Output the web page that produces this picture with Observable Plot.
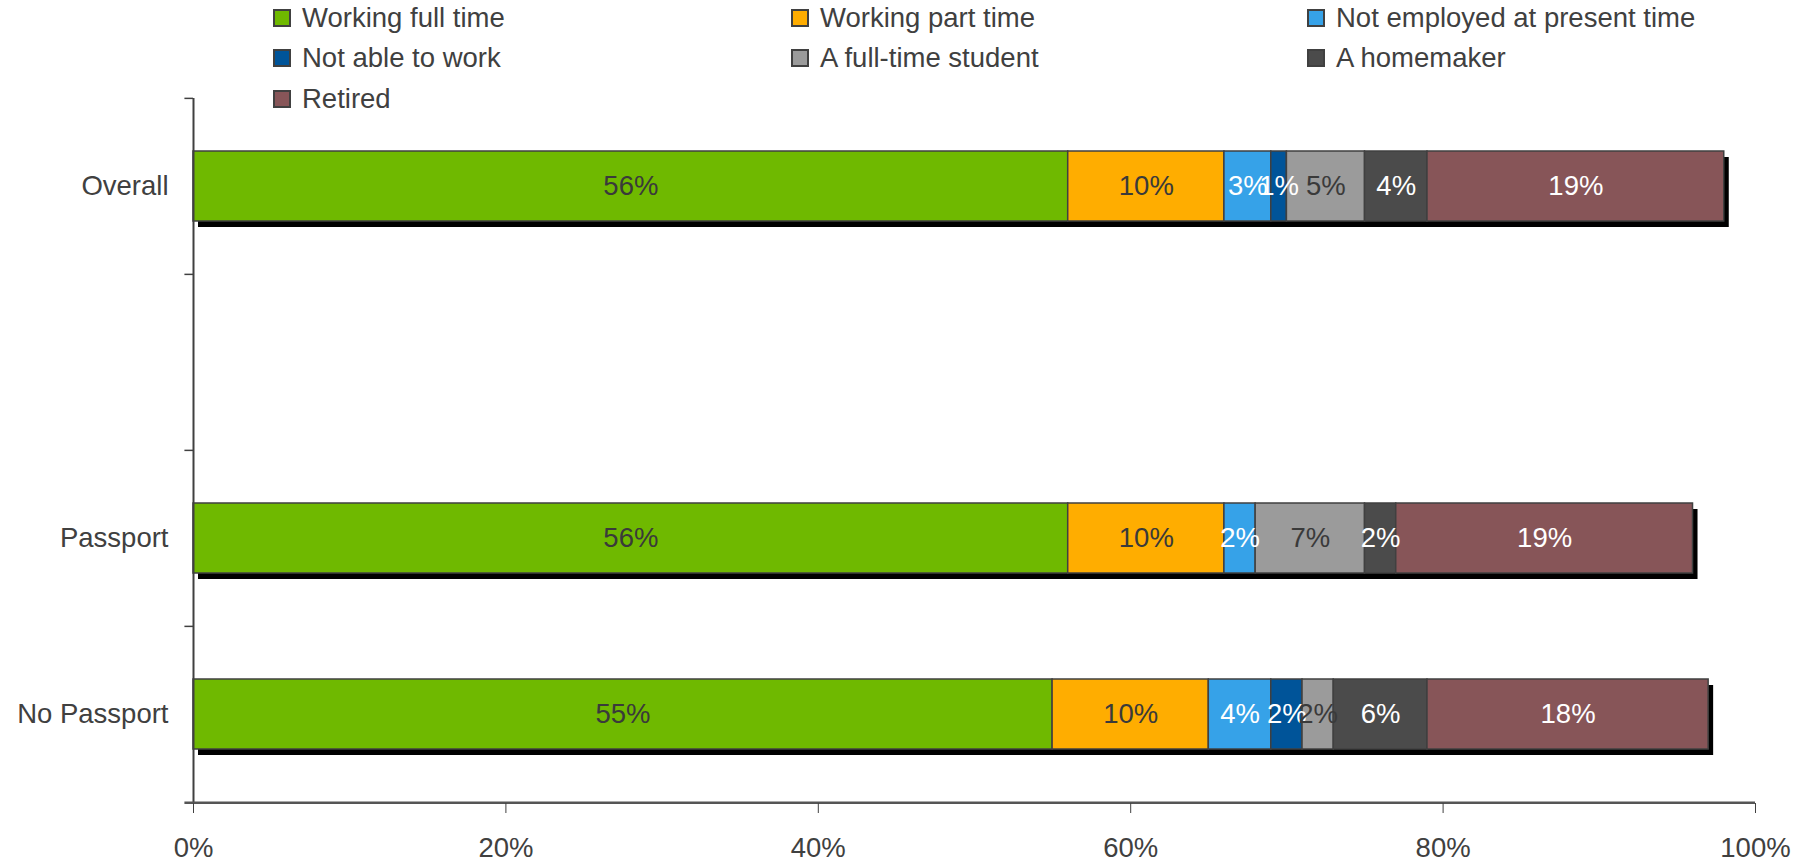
<!DOCTYPE html>
<html><head><meta charset="utf-8">
<script src="https://cdn.jsdelivr.net/npm/d3@7"></script>
<script src="https://cdn.jsdelivr.net/npm/@observablehq/plot@0.6"></script>
<style>
body{margin:0;background:#fff;font-family:"Liberation Sans",Arial,sans-serif;}
#wrap{position:relative;width:1810px;height:863px;overflow:hidden;}
#legend{position:absolute;left:0;top:0;width:1810px;height:120px;}
.item{position:absolute;height:34px;display:flex;align-items:center;font-size:27.5px;color:#404040;white-space:nowrap;}
.sw{width:14px;height:14px;border:2px solid #404040;margin-right:11px;}
</style></head><body>
<div id="wrap"><div id="chart"></div><div id="legend"></div></div>
<script>
const groups = ["Overall", " ", "Passport", "No Passport"];
const series = ["Working full time", "Working part time", "Not employed at present time",
  "Not able to work", "A full-time student", "A homemaker", "Retired"];
const overallValues = [56, 10, 3, 1, 5, 4, 19];
const passportValues = [56, 10, 2, 0, 7, 2, 19];
const noPassportValues = [55, 10, 4, 2, 2, 6, 18];
const seriesColors = ["#6fb900", "#ffad00", "#36a2e8", "#005499", "#9b9b9b", "#4b4b4b", "#875558"];
const labelColors = ["#3a3a3a", "#3a3a3a", "#ffffff", "#ffffff", "#3a3a3a", "#ffffff", "#ffffff"];
const xTicks = [0, 20, 40, 60, 80, 100];

const valuesByGroup = {"Overall": overallValues, "Passport": passportValues, "No Passport": noPassportValues};
const data = [];
const totals = [];
for (const g of Object.keys(valuesByGroup)) {
  const vals = valuesByGroup[g];
  vals.forEach((v, i) => { if (v > 0) data.push({group: g, series: series[i], value: v, idx: i}); });
  totals.push({group: g, total: d3.sum(vals)});
}

const W = 1810, H = 863, mT = 98, mB = 60, mL = 193, mR = 55;
const step = (H - mT - mB) / groups.length;
const font = '"Liberation Sans", Arial, sans-serif';

const chart = Plot.plot({
  width: W, height: H,
  marginTop: mT, marginBottom: mB, marginLeft: mL, marginRight: mR,
  style: {fontFamily: font, fontSize: "27.5px", color: "#404040", background: "white", overflow: "visible"},
  x: {domain: [0, 100], label: null},
  y: {domain: groups, paddingInner: 0.6, paddingOuter: 0.3, label: null},
  color: {type: "identity"},
  marks: [
    Plot.barX(totals, {x: "total", y: "group", fill: "black", dx: 5, dy: 6}),
    Plot.barX(data, Plot.stackX({
      x: "value", y: "group", z: "series", order: series,
      fill: d => seriesColors[d.idx], stroke: "#404040", strokeWidth: 1.5
    })),
    Plot.text(data, Plot.stackX({
      x: "value", y: "group", z: "series", order: series,
      text: d => d.value + "%", fill: d => labelColors[d.idx], fontSize: 27.5
    })),
    Plot.ruleX([0], {stroke: "#404040", strokeWidth: 2}),
    Plot.ruleY(groups, {y: d => d, x1: -0.55, x2: 0, dy: -step / 2, stroke: "#404040", strokeWidth: 1.5}),
    Plot.ruleY([groups[groups.length - 1]], {y: d => d, x1: -0.55, x2: 100, dy: step / 2, stroke: "#555", strokeWidth: 2.5}),
    Plot.axisX({ticks: xTicks, tickFormat: d => d + "%", tickSize: 10, tickPadding: 24, fontSize: 27.5, stroke: "#404040", label: null}),
    Plot.axisY({tickSize: 0, tickPadding: 25, fontSize: 27.5, label: null})
  ]
});
document.getElementById("chart").appendChild(chart);

const legend = document.getElementById("legend");
const colX = [273, 791, 1307];
const rowY = [18, 58, 99];
series.forEach((s, i) => {
  const it = document.createElement("div");
  it.className = "item";
  it.style.left = colX[i % 3] + "px";
  it.style.top = (rowY[Math.floor(i / 3)] - 17) + "px";
  const sw = document.createElement("span");
  sw.className = "sw";
  sw.style.background = seriesColors[i];
  const tx = document.createElement("span");
  tx.textContent = s;
  it.appendChild(sw); it.appendChild(tx);
  legend.appendChild(it);
});
</script>
</body></html>
